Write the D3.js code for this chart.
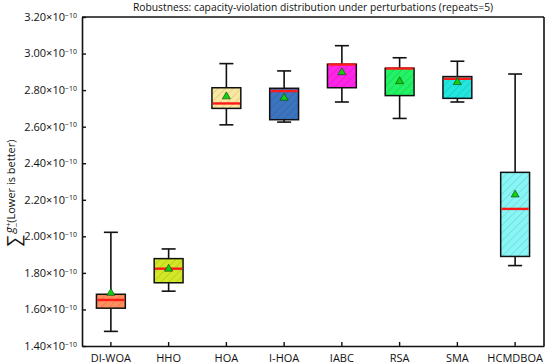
<!DOCTYPE html>
<html>
<head>
<meta charset="utf-8">
<script src="https://cdn.jsdelivr.net/npm/d3@7"></script>
<style>
  body { margin: 0; background: #fff; }
  text { font-family: "Open Sans", "DejaVu Sans", sans-serif; fill: #111; }
</style>
</head>
<body>
<div id="wrapper"></div>
<script>
// values in units of 1e-10
const algorithms = ["DI-WOA", "HHO", "HOA", "I-HOA", "IABC", "RSA", "SMA", "HCMDBOA"];
const whiskerLow  = [1.48, 1.70, 2.61, 2.625, 2.735, 2.645, 2.735, 1.84];
const q1Values    = [1.607, 1.746, 2.70, 2.638, 2.813, 2.77, 2.755, 1.89];
const medians     = [1.652, 1.823, 2.727, 2.795, 2.94, 2.918, 2.862, 2.15];
const q3Values    = [1.683, 1.878, 2.813, 2.81, 2.942, 2.92, 2.874, 2.35];
const whiskerHigh = [2.022, 1.931, 2.945, 2.905, 3.043, 2.977, 2.958, 2.888];
const means       = [1.69, 1.822, 2.765, 2.757, 2.897, 2.848, 2.843, 2.228];
const boxColors   = ["#FF8F5E", "#D2E827", "#F8E8A0", "#3C74C0", "#FF24E8", "#22F264", "#22E6E0", "#88F6F6"];
const yTicks = [1.4, 1.6, 1.8, 2.0, 2.2, 2.4, 2.6, 2.8, 3.0, 3.2];

let dimensions = {
  width: 550,
  height: 364,
  margin: { top: 17, left: 82, bottom: 18, right: 6 }
};
dimensions.boundedWidth = dimensions.width - dimensions.margin.left - dimensions.margin.right;
dimensions.boundedHeight = dimensions.height - dimensions.margin.top - dimensions.margin.bottom;

const data = algorithms.map((name, i) => ({
  name, low: whiskerLow[i], q1: q1Values[i], med: medians[i],
  q3: q3Values[i], high: whiskerHigh[i], mean: means[i], color: boxColors[i]
}));

const svg = d3.select("#wrapper").append("svg")
    .attr("width", dimensions.width)
    .attr("height", dimensions.height);

const defs = svg.append("defs");
data.forEach((d, i) => {
  const p = defs.append("pattern")
      .attr("id", "hatch" + i)
      .attr("patternUnits", "userSpaceOnUse")
      .attr("width", 5.5).attr("height", 5.5)
      .attr("patternTransform", "rotate(45)");
  p.append("rect").attr("width", 5.5).attr("height", 5.5).attr("fill", d.color);
  p.append("line")
      .attr("x1", 0).attr("y1", 0).attr("x2", 0).attr("y2", 5.5)
      .attr("stroke", d3.color(d.color).darker(1.4))
      .attr("stroke-opacity", 0.55)
      .attr("stroke-width", 0.9);
});

const container = svg.append("g")
    .attr("transform", `translate(${dimensions.margin.left}, ${dimensions.margin.top})`);

const xScale = d3.scaleBand()
    .domain(algorithms)
    .range([0, dimensions.boundedWidth]);
const yScale = d3.scaleLinear()
    .domain([1.4, 3.2])
    .range([dimensions.boundedHeight, 0]);

const boxW = xScale.bandwidth() * 0.5;
const capW = 14;

const groups = container.selectAll(".box")
    .data(data)
    .enter()
    .append("g")
    .attr("class", "box")
    .attr("transform", d => `translate(${xScale(d.name) + xScale.bandwidth() / 2}, 0)`);

// whiskers
groups.append("line")
    .attr("x1", 0).attr("x2", 0)
    .attr("y1", d => yScale(d.high)).attr("y2", d => yScale(d.q3))
    .attr("stroke", "#111").attr("stroke-width", 1.6);
groups.append("line")
    .attr("x1", 0).attr("x2", 0)
    .attr("y1", d => yScale(d.q1)).attr("y2", d => yScale(d.low))
    .attr("stroke", "#111").attr("stroke-width", 1.6);
groups.append("line")
    .attr("x1", -capW / 2).attr("x2", capW / 2)
    .attr("y1", d => yScale(d.high)).attr("y2", d => yScale(d.high))
    .attr("stroke", "#111").attr("stroke-width", 1.6);
groups.append("line")
    .attr("x1", -capW / 2).attr("x2", capW / 2)
    .attr("y1", d => yScale(d.low)).attr("y2", d => yScale(d.low))
    .attr("stroke", "#111").attr("stroke-width", 1.6);

// boxes
groups.append("rect")
    .attr("x", -boxW / 2)
    .attr("width", boxW)
    .attr("y", d => yScale(d.q3))
    .attr("height", d => yScale(d.q1) - yScale(d.q3))
    .attr("fill", (d, i) => `url(#hatch${i})`)
    .attr("stroke", "#111")
    .attr("stroke-width", 1.5);

// medians
groups.append("line")
    .attr("x1", -boxW / 2 + 0.8).attr("x2", boxW / 2 - 0.8)
    .attr("y1", d => yScale(d.med)).attr("y2", d => yScale(d.med))
    .attr("stroke", "#FF1A1A").attr("stroke-width", 2.4);

// means
groups.append("path")
    .attr("d", d3.symbol().type(d3.symbolTriangle).size(28))
    .attr("transform", d => `translate(0, ${yScale(d.mean)})`)
    .attr("fill", "#10D010")
    .attr("stroke", "#0a3a0a")
    .attr("stroke-width", 0.6);

// axes
const xAxisGen = d3.axisBottom(xScale).tickSizeInner(-4).tickSizeOuter(0).tickPadding(8);
const yAxisGen = d3.axisLeft(yScale).tickValues(yTicks).tickSizeInner(-4).tickSizeOuter(0).tickFormat(() => "");

const axisX = container.append("g")
    .attr("transform", `translate(0, ${dimensions.boundedHeight})`)
    .call(xAxisGen);
axisX.selectAll("text").style("font-size", "11px").attr("fill", "#111");

const axisY = container.append("g").call(yAxisGen);

[axisX, axisY].forEach(a => {
  a.select(".domain").attr("stroke", "#111").attr("stroke-width", 1.6);
  a.selectAll(".tick line").attr("stroke", "#111").attr("stroke-width", 1.4);
});

// y tick labels with superscript exponent
const yLabels = container.append("g").selectAll("text")
    .data(yTicks)
    .enter()
    .append("text")
    .attr("x", -5)
    .attr("y", d => yScale(d))
    .attr("dy", "0.35em")
    .attr("text-anchor", "end")
    .style("font-size", "11px");
yLabels.append("tspan").text(d => d.toFixed(2) + "×10");
yLabels.append("tspan")
    .attr("dy", "-0.45em")
    .style("font-size", "7px")
    .text("−10");

// frame top and right
container.append("line")
    .attr("x1", 0).attr("x2", dimensions.boundedWidth)
    .attr("y1", 0).attr("y2", 0)
    .attr("stroke", "#111").attr("stroke-width", 1.6);
container.append("line")
    .attr("x1", dimensions.boundedWidth).attr("x2", dimensions.boundedWidth)
    .attr("y1", 0).attr("y2", dimensions.boundedHeight)
    .attr("stroke", "#111").attr("stroke-width", 1.6);

// Title
container.append("text")
    .attr("x", dimensions.boundedWidth / 2)
    .attr("y", -6)
    .attr("text-anchor", "middle")
    .style("font-size", "10.3px")
    .text("Robustness: capacity-violation distribution under perturbations (repeats=5)");

// Y label
const yLab = svg.append("text")
    .attr("transform", "translate(17, 193) rotate(-90)")
    .attr("text-anchor", "middle")
    .style("font-size", "11px");
yLab.append("tspan").style("font-size", "18px").attr("dy", "0.15em").text("∑");
yLab.append("tspan").attr("dx", 2).attr("dy", "-0.45em").style("font-style", "italic").style("font-size", "12px").text("g");
yLab.append("tspan").attr("dy", "-0.45em").style("font-size", "8px").text("+");
yLab.append("tspan").attr("dx", -5).attr("dy", "1.0em").style("font-size", "8px").text("−");
yLab.append("tspan").attr("dy", "-0.3em").style("font-size", "11px").text("(Lower is better)");
</script>
</body>
</html>
